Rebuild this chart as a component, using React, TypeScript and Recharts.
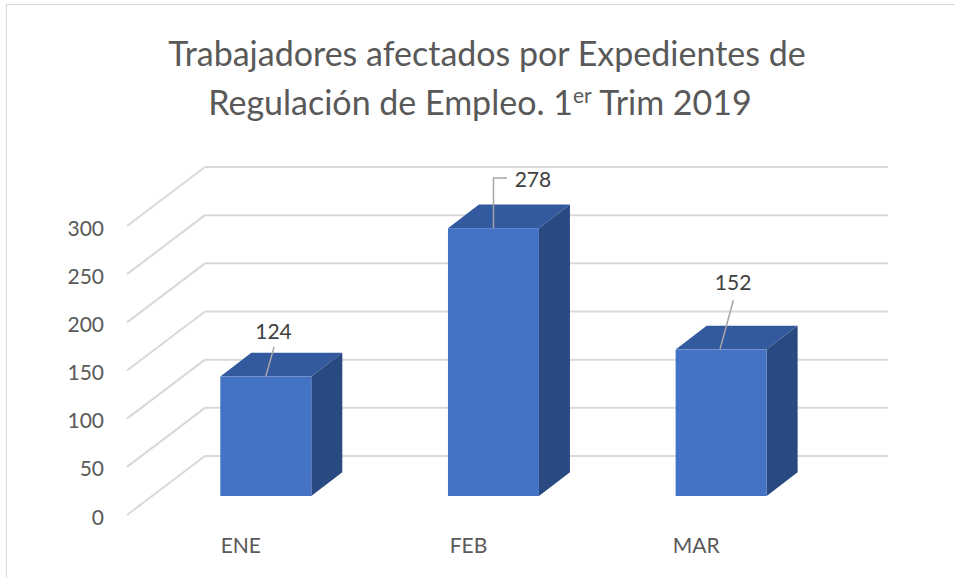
import { BarChart, Bar, XAxis, YAxis, CartesianGrid, LabelList } from 'recharts';

const months = ['ENE', 'FEB', 'MAR'];
const workers = [124, 278, 152];
const yTicks = [0, 50, 100, 150, 200, 250, 300];

const data = months.map((m, i) => ({ name: m, value: workers[i] }));

const FONT = 'Lato, "Open Sans", sans-serif';
const GRID = '#d9d9d9';
// 3d depth: bar back face offset, wall offset, floor front offset
const DEPTH_X = 31;
const DEPTH_Y = -23.7;
const WALL_X = 53;
const WALL_Y = -40;
const FRONT_X = -25;
const FRONT_Y = 19;

// hand-placed data labels (offsets from bar top centre)
const labelLayout = [
  { tx: 7.7, ty: -46, leader: [[0, 0], [8.3, -29.7]] },
  { tx: 39.5, ty: -50, leader: [[0, 0], [0, -50.3], [13.5, -50.3]] },
  { tx: 12, ty: -68.3, leader: [[-1.2, 0], [12.2, -49.3]] },
];

const Box3D = (props: any) => {
  const { x, y, width, height } = props;
  if (height <= 0) return null;
  const r = x + width;
  const b = y + height;
  return (
    <g>
      <polygon
        points={`${x},${y} ${x + DEPTH_X},${y + DEPTH_Y} ${r + DEPTH_X},${y + DEPTH_Y} ${r},${y}`}
        fill="#335a9e"
      />
      <polygon
        points={`${r},${y} ${r + DEPTH_X},${y + DEPTH_Y} ${r + DEPTH_X},${b + DEPTH_Y} ${r},${b}`}
        fill="#294a80"
      />
      <rect x={x} y={y} width={width} height={height} fill="#4472c4" />
    </g>
  );
};

const wallLine = (props: any) => {
  const { x1, x2, y1, key } = props;
  return (
    <g key={key}>
      <line x1={x1 + WALL_X} x2={x2 + WALL_X} y1={y1 + WALL_Y} y2={y1 + WALL_Y} stroke={GRID} strokeWidth={2} />
      <line x1={x1 + FRONT_X} y1={y1 + FRONT_Y} x2={x1 + WALL_X} y2={y1 + WALL_Y} stroke={GRID} strokeWidth={2} />
    </g>
  );
};

const YTick = (props: any) => {
  const { x, y, payload } = props;
  return (
    <text x={x} y={y + FRONT_Y + 1} textAnchor="end" dominantBaseline="central" fill="#595959" fontSize={21} fontFamily={FONT}>
      {payload.value}
    </text>
  );
};

const XTick = (props: any) => {
  const { x, y, payload } = props;
  return (
    <text x={x + FRONT_X} y={y + 48} textAnchor="middle" dominantBaseline="central" fill="#595959" fontSize={21} fontFamily={FONT}>
      {payload.value}
    </text>
  );
};

const DataLabel = (props: any) => {
  const { x, y, width, value, index } = props;
  const l = labelLayout[index];
  const cx = x + width / 2;
  const pts = l.leader.map((p) => `${cx + p[0]},${y + p[1]}`).join(' ');
  return (
    <g>
      <polyline points={pts} fill="none" stroke="#a6a6a6" strokeWidth={1.5} />
      <text x={cx + l.tx} y={y + l.ty} textAnchor="middle" dominantBaseline="central" fill="#404040" fontSize={21} fontFamily={FONT}>
        {value}
      </text>
    </g>
  );
};

export default function App() {
  return (
    <div style={{ position: 'absolute', left: 0, top: 0, width: 955, height: 578, overflow: 'hidden', background: '#fff' }}>
      <div
        style={{ position: 'absolute', left: 6, top: 4, width: 1200, height: 1200, border: `1.5px solid ${GRID}` }}
      />
      <svg width={955} height={140} style={{ position: 'absolute', left: 0, top: 0 }}>
        <text fill="#595959" fontSize={34} fontFamily={FONT} textAnchor="middle">
          <tspan x={487} y={66}>Trabajadores afectados por Expedientes de</tspan>
          <tspan x={480} y={115}>
            Regulación de Empleo. 1
            <tspan fontSize={21} dy={-12}>er</tspan>
            <tspan dy={12}> Trim 2019</tspan>
          </tspan>
        </text>
      </svg>
      <div style={{ position: 'absolute', left: 0, top: 0 }}>
        <BarChart
          width={955}
          height={578}
          data={data}
          margin={{ top: 207, right: 120, bottom: 42, left: 52 }}
          barCategoryGap="30%"
        >
          <CartesianGrid vertical={false} horizontal={wallLine} />
          <XAxis dataKey="name" height={40} tickSize={0} tickMargin={0} axisLine={false} tickLine={false} tick={XTick} />
          <YAxis
            domain={[0, 300]}
            ticks={yTicks}
            width={100}
            tickSize={0}
            tickMargin={48}
            axisLine={false}
            tickLine={false}
            tick={YTick}
          />
          <Bar dataKey="value" shape={Box3D} isAnimationActive={false}>
            <LabelList dataKey="value" content={DataLabel} />
          </Bar>
        </BarChart>
      </div>
    </div>
  );
}
